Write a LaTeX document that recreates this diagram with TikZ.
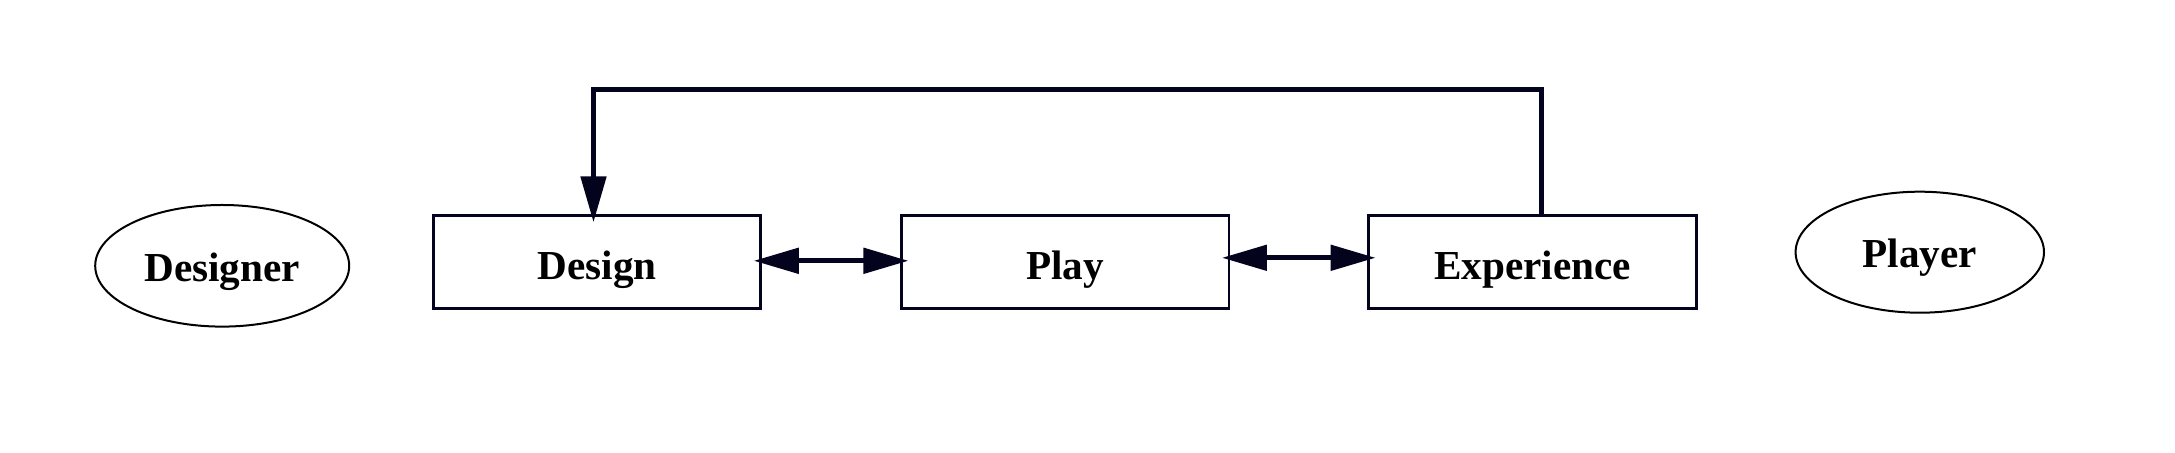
\documentclass[tikz,border=0pt]{standalone}
\usepackage{fontspec}
\setmainfont{Liberation Serif}
\usetikzlibrary{arrows.meta,shapes.geometric}
\definecolor{navy}{RGB}{3,3,30}
\tikzset{
  stagebox/.style={draw=navy,line width=1.35pt,rectangle,inner sep=0pt,
    minimum width=163.8pt,minimum height=46.7pt,
    font=\fontsize{20.6pt}{24pt}\selectfont\bfseries,text height=17.3pt,text depth=0pt},
  rolenode/.style={draw=black,line width=1pt,ellipse,inner sep=0pt,
    font=\fontsize{20.6pt}{24pt}\selectfont\bfseries,text depth=0pt},
  biarrow/.style={draw=navy,line width=2.5pt,
    {Triangle[length=22.5pt,width=12.5pt]}-{Triangle[length=22.5pt,width=12.5pt]},
    shorten <=-4.2pt,shorten >=-4.2pt},
  fbarrow/.style={draw=navy,line width=2.5pt,line join=miter,
    -{Triangle[length=23pt,width=12.5pt]}}
}
\begin{document}
\begin{tikzpicture}[x=0.5pt,y=-0.5pt]
\useasboundingbox (0,0) rectangle (2175,453);
\node[rolenode,minimum width=127pt,minimum height=60.8pt,text height=15.9pt] (designer) at (222.2,265.8) {Designer};
\node[stagebox] (design) at (597,262) {Design};
\node[stagebox] (play) at (1065.2,262) {Play};
\node[stagebox] (experience) at (1532.4,262) {Experience};
\node[rolenode,minimum width=124.2pt,minimum height=60.5pt,text height=15.1pt] (player) at (1919.8,252.2) {Player};
\draw[biarrow] ([yshift=0.6pt]design.east) -- ([yshift=0.6pt]play.west);
\draw[biarrow] ([yshift=2.1pt]play.east) -- ([yshift=2.1pt]experience.west);
\coordinate (fbtop) at (1541.8,90);
\draw[fbarrow] (experience.north -| fbtop) -- (fbtop) -| ([xshift=-1.75pt,yshift=-4.2pt]design.north);
\end{tikzpicture}
\end{document}
